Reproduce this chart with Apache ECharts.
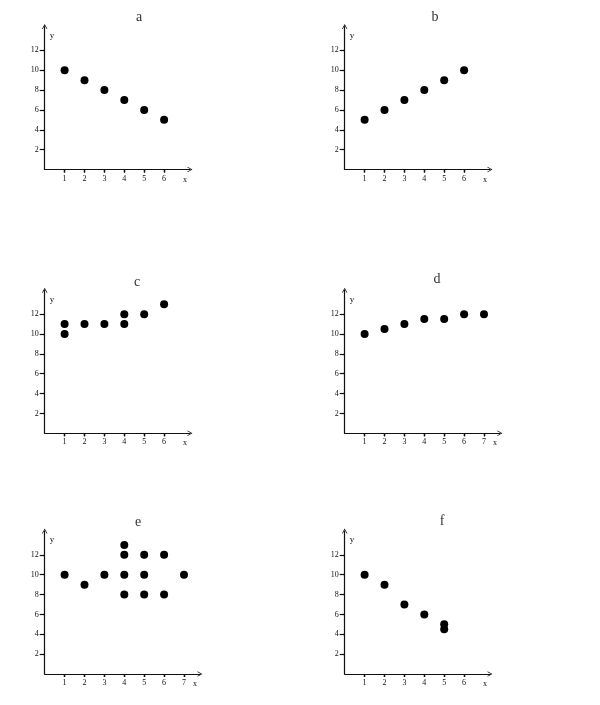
<!DOCTYPE html>
<html>
<head>
<meta charset="utf-8">
<script src="https://cdn.jsdelivr.net/npm/echarts@6/dist/echarts.min.js"></script>
<style>
  html, body { margin: 0; padding: 0; background: #fff; }
  #main { width: 600px; height: 705px; }
</style>
</head>
<body>
<div id="main"></div>
<script type="text/javascript">
    // data for the six scatter plots
    var panelNames = ['a', 'b', 'c', 'd', 'e', 'f'];
    var aX = [1, 2, 3, 4, 5, 6];
    var aY = [10, 9, 8, 7, 6, 5];
    var bX = [1, 2, 3, 4, 5, 6];
    var bY = [5, 6, 7, 8, 9, 10];
    var cX = [1, 1, 2, 3, 4, 4, 5, 6];
    var cY = [10, 11, 11, 11, 11, 12, 12, 13];
    var dX = [1, 2, 3, 4, 5, 6, 7];
    var dY = [10, 10.5, 11, 11.5, 11.5, 12, 12];
    var eX = [1, 2, 3, 4, 4, 4, 4, 5, 5, 5, 6, 6, 7];
    var eY = [10, 9, 10, 8, 10, 12, 13, 8, 10, 12, 8, 12, 10];
    var fX = [1, 2, 3, 4, 5, 5];
    var fY = [10, 9, 7, 6, 4.5, 5];
    var xTicks6 = [1, 2, 3, 4, 5, 6];
    var xTicks7 = [1, 2, 3, 4, 5, 6, 7];
    var yTicks = [2, 4, 6, 8, 10, 12];

    var panelData = [[aX, aY], [bX, bY], [cX, cY], [dX, dY], [eX, eY], [fX, fY]];
    var panelXTicks = [xTicks6, xTicks6, xTicks6, xTicks7, xTicks7, xTicks6];

    // layout (pixels)
    var colLeft = [44.7, 344.7];
    var rowOrigin = [169.5, 433.3, 674];
    var pxPerX = 19.9, pxPerY = 9.93, yMax = 14.4;
    var titlePos = [[134, 5], [430, 5], [132, 270], [432, 267], [133, 510], [437, 509]];

    var chevron = 'path://M0,9 L5,0 L10,9 L8.6,9 L5,2.6 L1.4,9 Z';
    var labelFont = { fontFamily: 'Liberation Serif', fontSize: 8, color: '#111' };

    var grid = [], xAxis = [], yAxis = [], series = [], title = [];
    panelNames.forEach(function (name, i) {
        var col = i % 2, row = Math.floor(i / 2);
        var ticks = panelXTicks[i];
        var xMax = ticks.length === 7 ? 7.8 : 7.3;
        grid.push({
            left: colLeft[col],
            top: rowOrigin[row] - yMax * pxPerY,
            width: xMax * pxPerX,
            height: yMax * pxPerY
        });
        // main x axis: line, arrow, outside ticks, labels
        xAxis.push({
            type: 'value', gridIndex: i, min: 0, max: xMax,
            splitLine: { show: false },
            axisLine: { lineStyle: { color: '#111', width: 1.2 }, symbol: ['none', chevron], symbolSize: [6, 5] },
            axisTick: { inside: false, length: 3, customValues: ticks, lineStyle: { color: '#111', width: 1.3 } },
            axisLabel: Object.assign({ customValues: ticks, margin: 5 }, labelFont),
            name: 'x', nameLocation: 'end', nameGap: -7,
            nameTextStyle: Object.assign({ verticalAlign: 'top', align: 'left', padding: [6, 0, 0, 0] }, labelFont)
        });
        // second x axis: inside half of the crossing ticks
        xAxis.push({
            type: 'value', gridIndex: i, min: 0, max: xMax,
            splitLine: { show: false },
            axisLine: { show: false },
            axisTick: { inside: true, length: 3, customValues: ticks, lineStyle: { color: '#111', width: 1.3 } },
            axisLabel: { show: false }
        });
        yAxis.push({
            type: 'value', gridIndex: i, min: 0, max: yMax,
            splitLine: { show: false },
            axisLine: { lineStyle: { color: '#111', width: 1.2 }, symbol: ['none', chevron], symbolSize: [6, 5] },
            axisTick: { inside: false, length: 5, customValues: yTicks, lineStyle: { color: '#111', width: 1.2 } },
            axisLabel: Object.assign({ customValues: yTicks, margin: 6 }, labelFont),
            name: 'y', nameLocation: 'end', nameGap: -9,
            nameTextStyle: Object.assign({ align: 'left', verticalAlign: 'middle', padding: [0, 0, 0, 5] }, labelFont, { fontSize: 9 })
        });
        yAxis.push({
            type: 'value', gridIndex: i, min: 0, max: yMax,
            splitLine: { show: false },
            axisLine: { show: false },
            axisTick: { inside: true, length: 2, customValues: yTicks, lineStyle: { color: '#111', width: 1.2 } },
            axisLabel: { show: false }
        });
        var xs = panelData[i][0], ys = panelData[i][1];
        series.push({
            type: 'scatter', name: name,
            xAxisIndex: 2 * i, yAxisIndex: 2 * i,
            symbol: 'circle', symbolSize: 8,
            itemStyle: { color: '#000', opacity: 1 },
            data: xs.map(function (x, k) { return [x, ys[k]]; })
        });
        title.push({
            text: name, left: titlePos[i][0], top: titlePos[i][1], textAlign: 'center',
            textStyle: { fontFamily: 'Liberation Serif', fontSize: 14, fontWeight: 'normal', color: '#333' }
        });
    });

    var myChart = echarts.init(document.getElementById('main'));
    var option = {
        animation: false,
        title: title,
        grid: grid,
        xAxis: xAxis,
        yAxis: yAxis,
        series: series
    };
    myChart.setOption(option);
</script>
</body>
</html>
